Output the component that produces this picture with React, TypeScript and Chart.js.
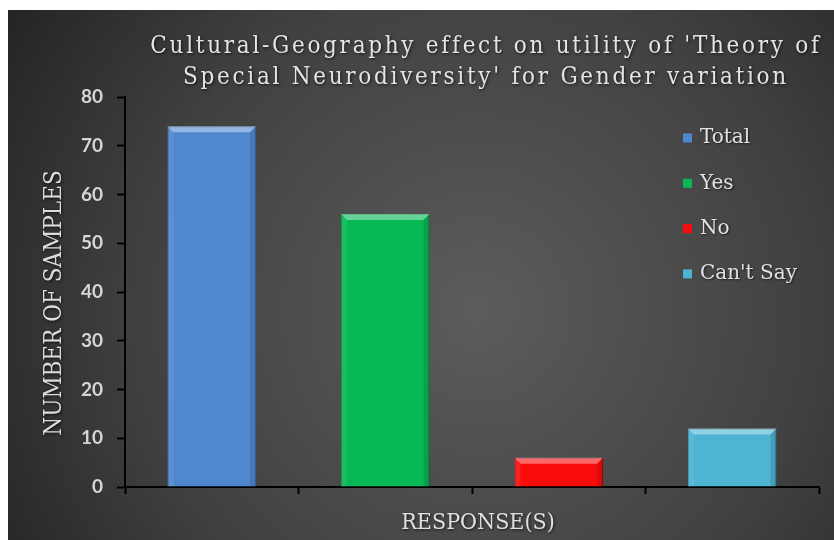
import React, { useEffect, useRef } from 'react';
import { Chart, registerables } from 'chart.js';

Chart.register(...registerables);

const categories = ['Total', 'Yes', 'No', "Can't Say"];
const sampleCounts = [74, 56, 6, 12];
const barColors = ['#5088d0', '#06b955', '#fb0c0c', '#4db5d2'];
const barBorders = ['#3b6aa6', '#04913f', '#b80000', '#3790aa'];
const titleLines = [
  "Cultural-Geography effect on utility of 'Theory of",
  "Special Neurodiversity' for Gender variation",
];
const yAxisTitle = 'NUMBER OF SAMPLES';
const xAxisTitle = 'RESPONSE(S)';
const yMin = 0;
const yMax = 80;
const yStep = 10;

const SERIF_C = "'DejaVu Serif Condensed', 'DejaVu Serif', serif";
const SERIF = "'DejaVu Serif', serif";

export default function App() {
  const ref = useRef<HTMLCanvasElement>(null);

  useEffect(() => {
    if (!ref.current) return;

    const bgPlugin = {
      id: 'bgPlugin',
      beforeDraw(chart: any) {
        const { ctx, width, height } = chart;
        ctx.save();
        const g = ctx.createRadialGradient(470, 300, 0, 470, 300, 620);
        g.addColorStop(0, '#5c5c5c');
        g.addColorStop(0.55, '#404040');
        g.addColorStop(1, '#1c1c1c');
        ctx.fillStyle = g;
        ctx.fillRect(0, 0, width, height);
        ctx.restore();
      },
    };

    const bevelPlugin = {
      id: 'bevelPlugin',
      afterDatasetsDraw(chart: any) {
        const { ctx } = chart;
        const meta = chart.getDatasetMeta(0);
        ctx.save();
        meta.data.forEach((bar: any) => {
          const left = bar.x - bar.width / 2;
          const right = bar.x + bar.width / 2;
          const top = bar.y;
          const bottom = bar.base;
          const b = Math.min(6, (bottom - top) / 3);
          ctx.fillStyle = 'rgba(255,255,255,0.38)';
          ctx.beginPath();
          ctx.moveTo(left, top);
          ctx.lineTo(right, top);
          ctx.lineTo(right - b, top + b);
          ctx.lineTo(left + b, top + b);
          ctx.closePath();
          ctx.fill();
          ctx.fillStyle = 'rgba(255,255,255,0.08)';
          ctx.beginPath();
          ctx.moveTo(left, top);
          ctx.lineTo(left + b, top + b);
          ctx.lineTo(left + b, bottom);
          ctx.lineTo(left, bottom);
          ctx.closePath();
          ctx.fill();
          ctx.fillStyle = 'rgba(0,0,0,0.12)';
          ctx.beginPath();
          ctx.moveTo(right, top);
          ctx.lineTo(right - b, top + b);
          ctx.lineTo(right - b, bottom);
          ctx.lineTo(right, bottom);
          ctx.closePath();
          ctx.fill();
        });
        ctx.restore();
      },
    };

    const textPlugin = {
      id: 'textPlugin',
      afterDraw(chart: any) {
        const { ctx } = chart;
        ctx.save();
        ctx.shadowColor = 'rgba(0,0,0,0.7)';
        ctx.shadowBlur = 3;
        ctx.shadowOffsetX = 1;
        ctx.shadowOffsetY = 1;
        ctx.font = `24px ${SERIF_C}`;
        (ctx as any).letterSpacing = '2.7px';
        ctx.fillStyle = '#e4e4e4';
        ctx.textAlign = 'center';
        ctx.textBaseline = 'middle';
        titleLines.forEach((line, i) => {
          ctx.fillText(line, 478, 37 + i * 31);
        });
        (ctx as any).letterSpacing = '0px';
        ctx.save();
        ctx.translate(47, 293);
        ctx.rotate(-Math.PI / 2);
        ctx.font = `24px ${SERIF_C}`;
        ctx.fillStyle = '#dcdcdc';
        ctx.fillText(yAxisTitle, 0, 0);
        ctx.restore();
        ctx.font = `23px ${SERIF_C}`;
        ctx.fillStyle = '#e0e0e0';
        ctx.fillText(xAxisTitle, 470, 513);
        const labels = chart.data.labels as string[];
        const ds = chart.data.datasets[0];
        ctx.font = `20px ${SERIF}`;
        ctx.textAlign = 'left';
        labels.forEach((lab, i) => {
          const y = 128 + i * 45.3;
          ctx.shadowBlur = 0;
          ctx.shadowOffsetX = 0;
          ctx.shadowOffsetY = 0;
          ctx.fillStyle = (ds.backgroundColor as string[])[i];
          ctx.fillRect(675, y - 4.5, 9, 9);
          ctx.shadowColor = 'rgba(0,0,0,0.6)';
          ctx.shadowBlur = 2;
          ctx.shadowOffsetX = 1;
          ctx.shadowOffsetY = 1;
          ctx.fillStyle = '#e2e2e2';
          ctx.fillText(lab, 692, y);
        });
        ctx.restore();
      },
    };

    const chart = new Chart(ref.current, {
      type: 'bar',
      data: {
        labels: categories,
        datasets: [
          {
            label: 'Samples',
            data: sampleCounts,
            backgroundColor: barColors,
            borderColor: barBorders,
            borderWidth: 1,
            barPercentage: 0.51,
            categoryPercentage: 1,
          },
        ],
      },
      options: {
        animation: false,
        responsive: true,
        maintainAspectRatio: false,
        layout: { padding: { top: 87, right: 15, left: 0, bottom: 0 } },
        plugins: {
          legend: { display: false },
          title: { display: false },
          tooltip: { enabled: false },
        },
        scales: {
          x: {
            grid: {
              display: true,
              drawOnChartArea: false,
              offset: true,
              color: '#000',
              tickLength: 7,
              tickWidth: 2,
            },
            border: { color: '#000', width: 2 },
            ticks: { callback: () => '', padding: 0 },
            afterFit: (s: any) => {
              s.height = 53;
            },
          },
          y: {
            min: yMin,
            max: yMax,
            ticks: {
              stepSize: yStep,
              color: '#d6d6d6',
              font: { family: 'Lato', weight: 'bold', size: 19 },
              padding: 14,
            },
            grid: {
              drawOnChartArea: false,
              color: '#000',
              tickLength: 8,
              tickWidth: 2,
            },
            border: { color: '#000', width: 2 },
            afterFit: (s: any) => {
              s.width = 117;
            },
          },
        },
      },
      plugins: [bgPlugin, bevelPlugin, textPlugin],
    });

    return () => chart.destroy();
  }, []);

  return (
    <div style={{ position: 'fixed', left: 8, top: 10, width: 826, height: 530 }}>
      <canvas ref={ref} />
    </div>
  );
}
